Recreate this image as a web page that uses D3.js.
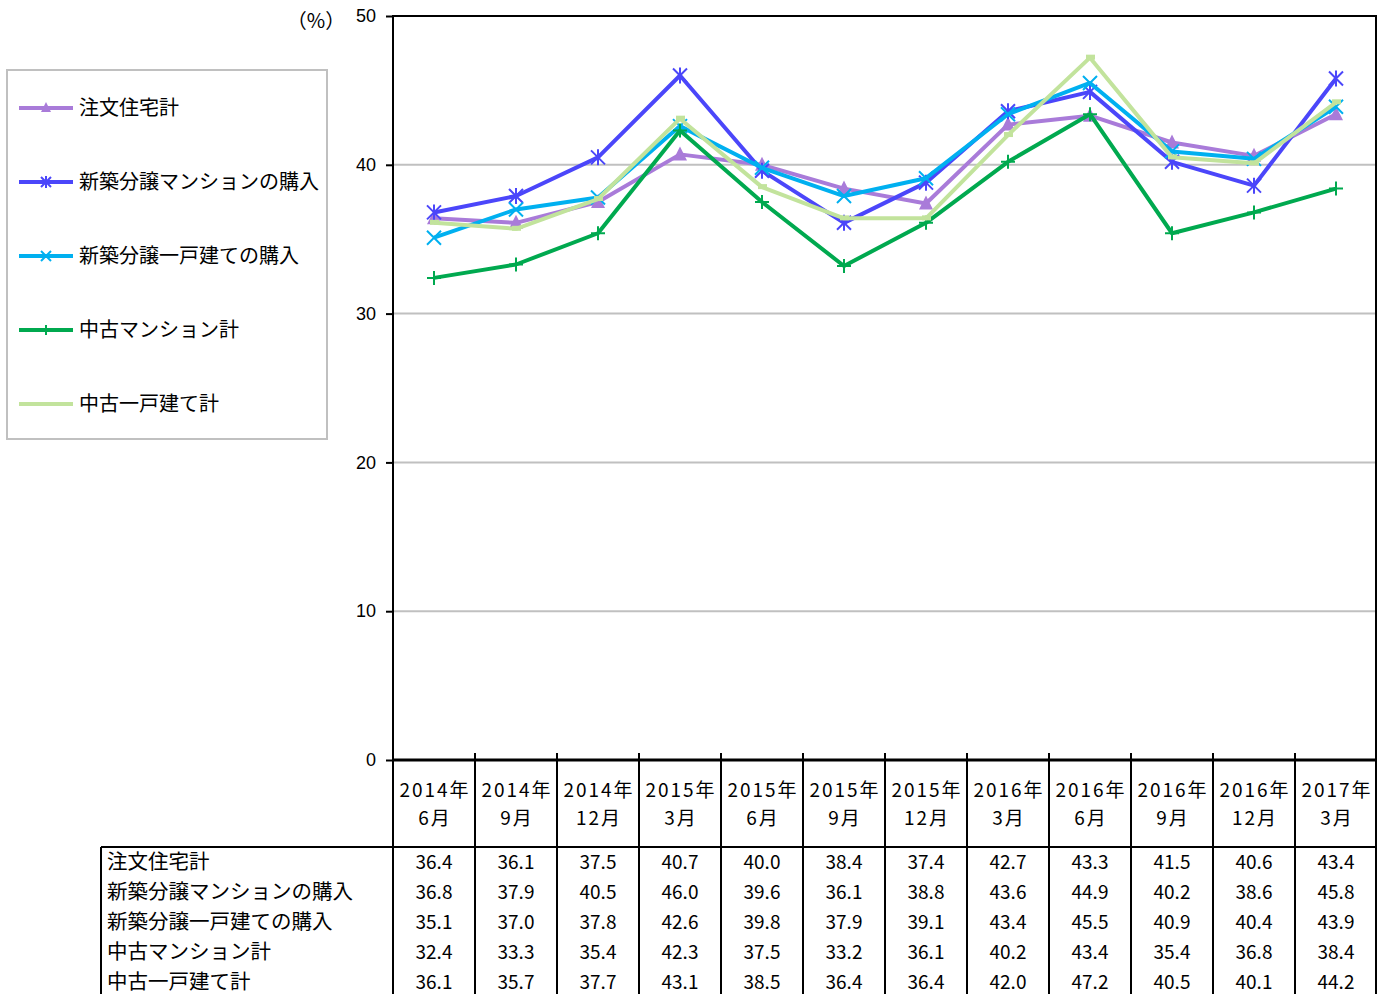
<!DOCTYPE html>
<html>
<head>
<meta charset="utf-8">
<script src="https://cdn.jsdelivr.net/npm/d3@7/dist/d3.min.js"></script>
<style>
  html, body { margin: 0; padding: 0; background: #fff; }
  svg { display: block; font-family: "Noto Sans CJK JP", "Noto Sans", sans-serif; }
</style>
</head>
<body>
<svg id="chart" width="1385" height="994"></svg>
<script>
// Survey periods (two-line headers in the data table)
const periodYears = ["2014年","2014年","2014年","2015年","2015年","2015年","2015年","2016年","2016年","2016年","2016年","2017年"];
const periodMonths = ["6月","9月","12月","3月","6月","9月","12月","3月","6月","9月","12月","3月"];

// Series names
const seriesNames = ["注文住宅計","新築分譲マンションの購入","新築分譲一戸建ての購入","中古マンション計","中古一戸建て計"];

// Series values (%)
const chumonJutaku   = [36.4, 36.1, 37.5, 40.7, 40.0, 38.4, 37.4, 42.7, 43.3, 41.5, 40.6, 43.4];
const shinchikuMansion = [36.8, 37.9, 40.5, 46.0, 39.6, 36.1, 38.8, 43.6, 44.9, 40.2, 38.6, 45.8];
const shinchikuKodate  = [35.1, 37.0, 37.8, 42.6, 39.8, 37.9, 39.1, 43.4, 45.5, 40.9, 40.4, 43.9];
const chukoMansion   = [32.4, 33.3, 35.4, 42.3, 37.5, 33.2, 36.1, 40.2, 43.4, 35.4, 36.8, 38.4];
const chukoKodate    = [36.1, 35.7, 37.7, 43.1, 38.5, 36.4, 36.4, 42.0, 47.2, 40.5, 40.1, 44.2];

// Y axis ticks
const yTicks = [0, 10, 20, 30, 40, 50];

const seriesValues = [chumonJutaku, shinchikuMansion, shinchikuKodate, chukoMansion, chukoKodate];
const seriesColors = ["#a97bd9", "#4b46fa", "#00b0f0", "#00a94f", "#c2e39c"];
const seriesMarkers = ["triangle", "asterisk", "cross", "plus", "dash"];

const svg = d3.select("#chart");
const plot = { left: 393, right: 1377, top: 16, bottom: 760 };
const tableBottom = 994, headerBottom = 847, labelLeft = 101;

const keys = periodYears.map((d, i) => i);
const x = d3.scaleBand().domain(keys).range([plot.left, plot.right]);
const xc = i => x(i) + x.bandwidth() / 2;
const y = d3.scaleLinear().domain([0, 50]).range([plot.bottom, plot.top]);

// Horizontal gridlines
svg.append("g").selectAll("line")
  .data(yTicks.filter(t => t > 0 && t < 50))
  .join("line")
  .attr("x1", plot.left).attr("x2", plot.right - 1)
  .attr("y1", d => y(d)).attr("y2", d => y(d))
  .attr("stroke", "#c0c0c0").attr("stroke-width", 2);

// Y axis (ticks outside left, labels right-aligned)
const yAxis = d3.axisLeft(y).tickValues(yTicks).tickSize(7).tickPadding(10).tickFormat(d3.format("d"));
const yg = svg.append("g").attr("transform", `translate(${plot.left},0)`).call(yAxis);
yg.select(".domain").remove();
yg.selectAll(".tick line").attr("stroke", "#000").attr("stroke-width", 2);
yg.selectAll(".tick text").attr("font-size", 18).attr("fill", "#000")
  .attr("font-family", "'Liberation Sans', Arial, sans-serif");

svg.append("text").attr("x", 316).attr("y", 28).attr("text-anchor", "middle")
  .attr("font-size", 20).attr("fill", "#000").text("（%）");

// Plot frame
svg.append("path")
  .attr("d", `M${plot.left},${plot.bottom}V${plot.top}H${plot.right - 1}V${plot.bottom}`)
  .attr("fill", "none").attr("stroke", "#000").attr("stroke-width", 2);

// Category boundary tick marks above the baseline
svg.append("g").selectAll("line")
  .data(keys.slice(1))
  .join("line")
  .attr("x1", d => x(d)).attr("x2", d => x(d))
  .attr("y1", plot.bottom - 7).attr("y2", plot.bottom)
  .attr("stroke", "#000").attr("stroke-width", 2);

// Marker shapes
function drawMarker(g, type, color, cx, cy, s) {
  const r = s / 2;
  if (type === "triangle") {
    g.append("path").attr("d", `M${cx},${cy - r - 1}L${cx + r},${cy + r - 1}L${cx - r},${cy + r - 1}Z`).attr("fill", color);
  } else if (type === "asterisk") {
    g.append("path").attr("d", `M${cx - r},${cy - r}L${cx + r},${cy + r}M${cx + r},${cy - r}L${cx - r},${cy + r}M${cx},${cy - r - 1}V${cy + r + 1}`)
      .attr("stroke", color).attr("stroke-width", 2).attr("fill", "none");
  } else if (type === "cross") {
    g.append("path").attr("d", `M${cx - r},${cy - r}L${cx + r},${cy + r}M${cx + r},${cy - r}L${cx - r},${cy + r}`)
      .attr("stroke", color).attr("stroke-width", 2).attr("fill", "none");
  } else if (type === "plus") {
    g.append("path").attr("d", `M${cx - r},${cy}H${cx + r}M${cx},${cy - r}V${cy + r}`)
      .attr("stroke", color).attr("stroke-width", 2).attr("fill", "none");
  } else if (type === "dash") {
    g.append("rect").attr("x", cx - 4).attr("y", cy - 3).attr("width", 9).attr("height", 5).attr("fill", color);
  }
}

// Series lines and markers
const line = d3.line().x((d, i) => xc(i)).y(d => y(d));
seriesValues.forEach((vals, si) => {
  const g = svg.append("g");
  g.append("path").datum(vals).attr("d", line)
    .attr("fill", "none").attr("stroke", seriesColors[si]).attr("stroke-width", 4)
    .attr("stroke-linejoin", "round");
  vals.forEach((v, i) => drawMarker(g, seriesMarkers[si], seriesColors[si], xc(i), y(v), 14));
});

// Baseline (heavy)
svg.append("line").attr("x1", plot.left - 1).attr("x2", plot.right)
  .attr("y1", plot.bottom).attr("y2", plot.bottom)
  .attr("stroke", "#000").attr("stroke-width", 3);

// Legend
const legend = svg.append("g");
legend.append("rect").attr("x", 7).attr("y", 70).attr("width", 320).attr("height", 369)
  .attr("fill", "#fff").attr("stroke", "#c0c0c0").attr("stroke-width", 2);
seriesNames.forEach((name, i) => {
  const ly = 108 + 74 * i;
  const lg = legend.append("g");
  lg.append("line").attr("x1", 19).attr("x2", 73).attr("y1", ly).attr("y2", ly)
    .attr("stroke", seriesColors[i]).attr("stroke-width", 4);
  if (seriesMarkers[i] !== "dash") drawMarker(lg, seriesMarkers[i], seriesColors[i], 46, ly, 10);
  lg.append("text").attr("x", 79).attr("y", ly + 7).attr("font-size", 20).attr("fill", "#000").text(name);
});

// Data table grid
const grid = svg.append("g").attr("stroke", "#000").attr("stroke-width", 2);
keys.concat([keys.length]).forEach(k => {
  const gx = k < keys.length ? x(k) : plot.right - 1;
  grid.append("line").attr("x1", gx).attr("x2", gx).attr("y1", plot.bottom).attr("y2", tableBottom);
});
grid.append("line").attr("x1", labelLeft).attr("x2", plot.right).attr("y1", headerBottom).attr("y2", headerBottom);
grid.append("line").attr("x1", labelLeft).attr("x2", labelLeft).attr("y1", headerBottom).attr("y2", tableBottom);

// Header text
const header = svg.append("g").attr("font-size", 19).attr("fill", "#000").attr("text-anchor", "middle");
keys.forEach(i => {
  header.append("text").attr("x", xc(i) + 1).attr("y", 797).attr("letter-spacing", 2).text(periodYears[i]);
  header.append("text").attr("x", xc(i) + 1).attr("y", 825).attr("letter-spacing", 2).text(periodMonths[i]);
});

// Table rows
const rows = svg.append("g").attr("font-size", 19).attr("fill", "#000");
seriesNames.forEach((name, si) => {
  const ry = 869 + 30 * si;
  rows.append("text").attr("x", 107).attr("y", ry).attr("font-size", 20.5).text(name);
  seriesValues[si].forEach((v, i) => {
    rows.append("text").attr("x", xc(i)).attr("y", ry).attr("text-anchor", "middle").text(v.toFixed(1));
  });
});
</script>
</body>
</html>
